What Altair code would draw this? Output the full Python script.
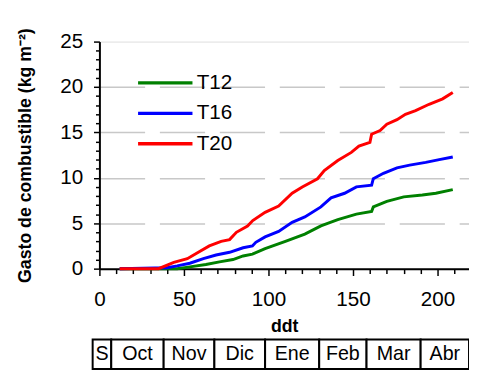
import altair as alt
import pandas as pd

# ---- data ----
t20_x = [12, 35, 44, 52, 57.5, 65, 72, 77, 81, 87.6, 90.7, 98, 106, 114, 120, 129, 133, 141, 149, 153.5, 160, 161, 166, 170, 176, 181, 187, 195, 203, 209]
t20_y = [0, 0, 0.7, 1.1, 1.7, 2.5, 3.0, 3.2, 4.0, 4.7, 5.3, 6.2, 6.9, 8.3, 9.0, 9.9, 10.8, 11.9, 12.8, 13.5, 13.9, 14.8, 15.2, 15.9, 16.4, 17.0, 17.4, 18.1, 18.7, 19.4]

t16_x = [12, 40, 46, 53.5, 61.5, 69, 77, 85, 90.5, 92.5, 98, 106, 114, 121.5, 131, 137, 145, 152, 161, 162, 168, 176, 183.5, 193, 201, 209]
t16_y = [0, 0.1, 0.3, 0.6, 1.1, 1.5, 1.8, 2.3, 2.5, 2.9, 3.5, 4.1, 5.1, 5.7, 6.8, 7.8, 8.3, 9.0, 9.2, 9.9, 10.5, 11.1, 11.4, 11.7, 12.0, 12.3]

t12_x = [12, 46, 53.5, 63, 71, 79, 85, 90.5, 98, 110, 121.5, 131, 141, 152, 161, 162, 170, 180, 191, 199, 209]
t12_y = [0, 0, 0.2, 0.45, 0.75, 1.0, 1.4, 1.6, 2.2, 3.0, 3.8, 4.7, 5.4, 6.0, 6.3, 6.8, 7.4, 7.9, 8.1, 8.3, 8.7]

series_names = ["T12", "T16", "T20"]
series_colors = ["#008000", "#0000FF", "#FF0000"]

months = ["S", "Oct", "Nov", "Dic", "Ene", "Feb", "Mar", "Abr"]
month_bounds = [-4, 7, 38, 68, 98, 130, 158, 190, 218.6]

y_ticks = list(range(0, 26))
x_major = [0, 50, 100, 150, 200]
x_minor = [v for v in range(0, 211, 10) if v % 50 != 0]

# ---- tables ----
rows = []
for name, xs, ys in [("T12", t12_x, t12_y), ("T16", t16_x, t16_y), ("T20", t20_x, t20_y)]:
    for i, (a, b) in enumerate(zip(xs, ys)):
        rows.append({"serie": name, "ddt": a, "gasto": b, "i": i})
df = pd.DataFrame(rows)

mdf = pd.DataFrame({
    "mes": months,
    "x0": month_bounds[:-1],
    "x1": month_bounds[1:],
})
mdf["xm"] = (mdf["x0"] + mdf["x1"]) / 2

minor_df = pd.DataFrame({"ddt": x_minor})

W, H = 376, 231
FONT = "Liberation Sans"

xscale = alt.Scale(domain=[0, 218.6], nice=False, zero=False)
yscale = alt.Scale(domain=[0, 25], nice=False)

x_axis = alt.Axis(
    values=x_major,
    title="ddt",
    titleFont=FONT, titleFontSize=18, titleFontWeight="bold", titleColor="black",
    titlePadding=9,
    labelFont=FONT, labelFontSize=21, labelColor="black", labelPadding=13,
    labelFlush=False, labelOverlap=False,
    tickSize=7, tickColor="black", tickWidth=1.5,
    domainColor="black", domainWidth=2,
    grid=False,
)

x_minor_axis = alt.Axis(
    values=x_minor, orient="bottom", title=None, labels=False, domain=False,
    tickSize=5, tickColor="black", tickWidth=1.5, grid=False,
)

y_axis = alt.Axis(
    values=y_ticks,
    title="Gasto de combustible (kg m⁻²)",
    titleFont=FONT, titleFontSize=18, titleFontWeight="bold", titleColor="black",
    titlePadding=26,
    labelFont=FONT, labelFontSize=21, labelColor="black", labelPadding=11,
    labelExpr="datum.value % 5 === 0 ? datum.label : ''",
    labelOverlap=False,
    tickSize={"condition": {"test": "datum.value % 5 === 0", "value": 6}, "value": 4},
    tickColor="black", tickWidth=1.5,
    domainColor="black", domainWidth=2,
    grid=True, gridColor="#c8c8c8", gridWidth=1.5, gridDash=[46, 15],
    gridOpacity={"condition": {"test": "datum.value % 5 === 0 && datum.value > 0 && datum.value < 25", "value": 1}, "value": 0},
)

lines = alt.Chart(df).mark_line(strokeWidth=3).encode(
    x=alt.X("ddt:Q", scale=xscale, axis=x_axis),
    y=alt.Y("gasto:Q", scale=yscale, axis=y_axis),
    color=alt.Color(
        "serie:N",
        scale=alt.Scale(domain=series_names, range=series_colors),
        legend=alt.Legend(
            title=None, orient="none", legendX=49, legendY=24,
            symbolType="M-1.75,0H1.75", symbolSize=1000, symbolStrokeWidth=3.5,
            labelFont=FONT, labelFontSize=21, labelColor="black",
            labelOffset=14, rowPadding=3, padding=0,
        ),
    ),
    order="i:Q",
)

minor = alt.Chart(minor_df).mark_point(opacity=0).encode(
    x=alt.X("ddt:Q", scale=xscale, axis=x_minor_axis),
)

cells = alt.Chart(mdf).mark_rect(fill="white", stroke="black", strokeWidth=2).encode(
    x=alt.X("x0:Q", scale=xscale, axis=None),
    x2="x1:Q",
    y=alt.value(H + 72),
    y2=alt.value(H + 102),
)

cell_text = alt.Chart(mdf).mark_text(
    font=FONT, fontSize=20, color="black", baseline="middle", align="center"
).encode(
    x=alt.X("xm:Q", scale=xscale, axis=None),
    y=alt.value(H + 87),
    text="mes:N",
)

chart = alt.layer(lines, minor, cells, cell_text).resolve_axis(x="independent").properties(
    width=W,
    height=H,
    autosize=alt.AutoSizeParams(type="none"),
    padding={"left": 93, "top": 31, "right": 0, "bottom": 104},
).configure_view(stroke=None).configure(background="white")

chart.save("out.html", embed_options={"renderer": "svg", "actions": False})
